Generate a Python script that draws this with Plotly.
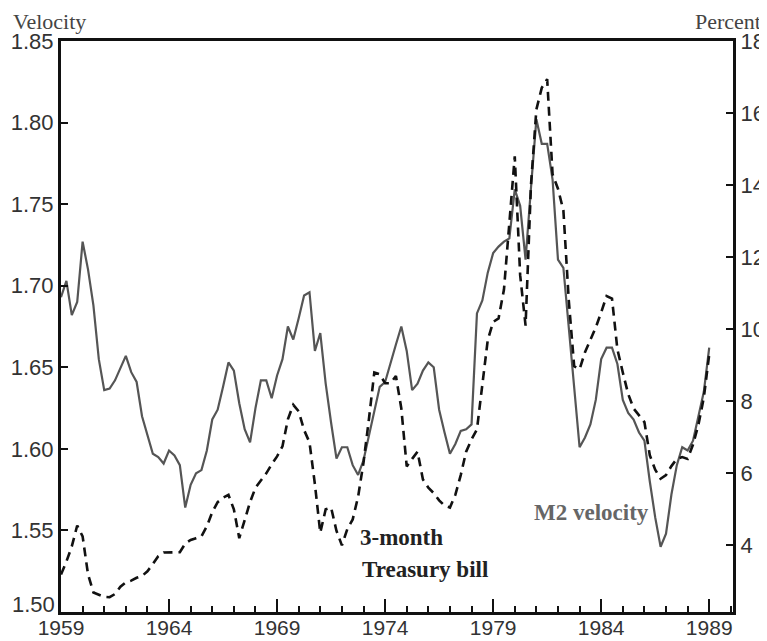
import plotly.graph_objects as go

start_year = 1959
quarters_per_year = 4

m2_velocity = [
    1.693, 1.703, 1.682, 1.690, 1.727, 1.710, 1.688, 1.655,
    1.636, 1.637, 1.642, 1.650, 1.657, 1.647, 1.641, 1.620,
    1.608, 1.597, 1.595, 1.591, 1.599, 1.596, 1.590, 1.564,
    1.578, 1.585, 1.587, 1.599, 1.618, 1.624, 1.638, 1.653,
    1.648, 1.628, 1.612, 1.604, 1.625, 1.642, 1.642, 1.631,
    1.645, 1.655, 1.675, 1.667, 1.680, 1.694, 1.696, 1.660,
    1.671, 1.640, 1.616, 1.594, 1.601, 1.601, 1.590, 1.584,
    1.593, 1.608, 1.622, 1.638, 1.641, 1.653, 1.664, 1.675,
    1.660, 1.636, 1.640, 1.648, 1.653, 1.650, 1.624, 1.610,
    1.597, 1.603, 1.611, 1.612, 1.615, 1.683, 1.691, 1.708,
    1.720, 1.724, 1.727, 1.729, 1.759, 1.749, 1.716, 1.760,
    1.802, 1.787, 1.787, 1.765, 1.716, 1.711, 1.675, 1.635,
    1.601, 1.607, 1.615, 1.630, 1.655, 1.662, 1.662, 1.652,
    1.630, 1.622, 1.618, 1.610, 1.605, 1.580, 1.558, 1.540,
    1.548, 1.572, 1.590, 1.601, 1.599, 1.605, 1.620, 1.635,
    1.662,
]

tbill_rate = [
    3.19, 3.55, 3.97, 4.55, 4.25, 3.20, 2.69, 2.62,
    2.57, 2.56, 2.65, 2.85, 2.97, 3.02, 3.10, 3.15,
    3.28, 3.48, 3.70, 3.80, 3.81, 3.81, 3.81, 4.05,
    4.15, 4.20, 4.25, 4.53, 4.92, 5.20, 5.32, 5.40,
    5.00, 4.20, 4.70, 5.20, 5.60, 5.80, 6.00, 6.25,
    6.47, 6.75, 7.50, 7.90, 7.72, 7.20, 6.86, 5.70,
    4.35, 5.00, 5.05, 4.40, 4.00, 4.45, 4.72, 5.35,
    6.30, 7.50, 8.80, 8.75, 8.50, 8.50, 8.70, 7.80,
    6.19, 6.40, 6.60, 5.83, 5.60, 5.45, 5.25, 5.10,
    5.05, 5.40, 5.95, 6.60, 6.94, 7.22, 8.50, 9.70,
    10.20, 10.30, 11.10, 13.06, 14.80, 11.50, 10.10, 14.00,
    16.10, 16.70, 16.94, 14.30, 13.90, 13.30, 10.80, 8.97,
    8.89, 9.36, 9.70, 10.05, 10.47, 10.92, 10.85, 9.44,
    8.80, 8.20, 7.80, 7.60, 7.42, 6.50, 6.10, 5.85,
    5.95, 6.20, 6.40, 6.45, 6.40, 6.80, 7.35, 8.10,
    9.30,
]

dates = [start_year + i / quarters_per_year for i in range(len(m2_velocity))]

x_tick_years = [1959, 1964, 1969, 1974, 1979, 1984, 1989]
left_ticks = [1.50, 1.55, 1.60, 1.65, 1.70, 1.75, 1.80, 1.85]
right_ticks = [4, 6, 8, 10, 12, 14, 16, 18]

fig = go.Figure()
fig.add_trace(go.Scatter(
    x=dates, y=m2_velocity, mode="lines", name="M2 velocity",
    line=dict(color="#555555", width=2.2), yaxis="y",
))
fig.add_trace(go.Scatter(
    x=dates, y=tbill_rate, mode="lines", name="3-month Treasury bill",
    line=dict(color="#111111", width=2.6, dash="9px,6px"), yaxis="y2",
))

sans = "Liberation Sans, Arial, sans-serif"
tick_font = dict(family=sans, size=22, color="#333333")
x_tick_font = dict(family=sans, size=21, color="#333333")
serif = "Liberation Serif, Times New Roman, serif"

# The lowest left tick label sits slightly raised in the original, clear of the x labels
left_ticktext = ["" if v == left_ticks[0] else "%.2f" % v for v in left_ticks]

fig.update_layout(
    width=759, height=633,
    margin=dict(l=53, r=34, t=33, b=29),
    paper_bgcolor="white", plot_bgcolor="white",
    showlegend=False,
    xaxis=dict(
        range=[1959, 1990.1], tickvals=x_tick_years,
        ticktext=[str(v) for v in x_tick_years],
        ticks="inside", ticklen=13, tickwidth=2, tickcolor="#111111",
        minor=dict(dtick=1, tick0=1959, ticks="inside", ticklen=6, tickwidth=2, tickcolor="#111111", showgrid=False),
        showline=True, linecolor="#111111", linewidth=3, mirror=True,
        showgrid=False, zeroline=False, tickfont=x_tick_font, automargin=False,
        ticklabelstandoff=-5,
    ),
    yaxis=dict(
        range=[1.50, 1.85], tickvals=left_ticks,
        ticktext=left_ticktext,
        ticks="inside", ticklen=7, tickwidth=2, tickcolor="#111111",
        showline=True, linecolor="#111111", linewidth=3,
        showgrid=False, zeroline=False, tickfont=tick_font, automargin=False,
    ),
    yaxis2=dict(
        range=[2.15, 18], tickvals=right_ticks,
        ticktext=[str(v) for v in right_ticks],
        overlaying="y", side="right",
        ticks="inside", ticklen=7, tickwidth=2, tickcolor="#111111",
        showline=True, linecolor="#111111", linewidth=3,
        showgrid=False, zeroline=False, tickfont=tick_font, automargin=False,
    ),
    annotations=[
        dict(text="%.2f" % left_ticks[0], xref="paper", yref="y", x=0, y=left_ticks[0],
             xanchor="right", yanchor="middle", xshift=-4, yshift=8, showarrow=False,
             font=tick_font),
        dict(text="Velocity", xref="paper", yref="paper", x=-0.075, y=1.035,
             xanchor="left", yanchor="middle", showarrow=False,
             font=dict(family=serif, size=22, color="#444444")),
        dict(text="Percent", xref="paper", yref="paper", x=1.044, y=1.035,
             xanchor="right", yanchor="middle", showarrow=False,
             font=dict(family=serif, size=22, color="#444444")),
        dict(text="<b>3-month</b>", xref="x", yref="paper", x=1972.73, y=0.131,
             xanchor="left", yanchor="middle", showarrow=False,
             font=dict(family=serif, size=23, color="#222222")),
        dict(text="<b>Treasury bill</b>", xref="x", yref="paper", x=1972.82, y=0.0736,
             xanchor="left", yanchor="middle", showarrow=False,
             font=dict(family=serif, size=23, color="#222222")),
        dict(text="<b>M2 velocity</b>", xref="x", yref="paper", x=1980.78, y=0.175,
             xanchor="left", yanchor="middle", showarrow=False,
             font=dict(family=serif, size=23, color="#666666")),
    ],
)

fig.write_html("out.html")
